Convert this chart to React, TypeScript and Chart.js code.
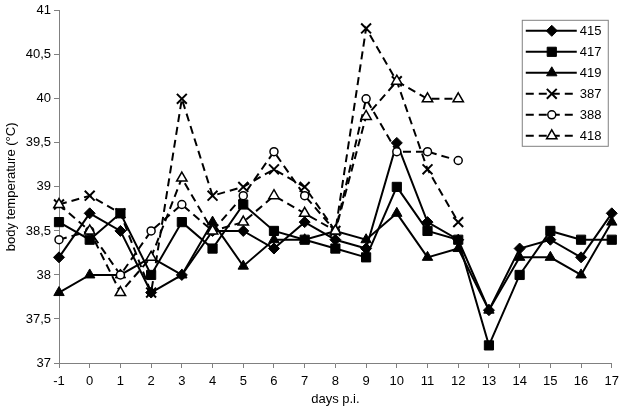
import React, { useEffect, useRef } from 'react';
import { Chart, registerables } from 'chart.js';
import { drawPoint } from 'chart.js/helpers';

Chart.register(...registerables);

const days = ['-1', '0', '1', '2', '3', '4', '5', '6', '7', '8', '9', '10', '11', '12', '13', '14', '15', '16', '17'];

const s415 = [38.2, 38.7, 38.5, 37.8, 38.0, 38.5, 38.5, 38.3, 38.6, 38.4, 38.3, 39.5, 38.6, 38.4, 37.6, 38.3, 38.4, 38.2, 38.7];
const s417 = [38.6, 38.4, 38.7, 38.0, 38.6, 38.3, 38.8, 38.5, 38.4, 38.3, 38.2, 39.0, 38.5, 38.4, 37.2, 38.0, 38.5, 38.4, 38.4];
const s419 = [37.8, 38.0, 38.0, 38.2, 38.0, 38.6, 38.1, 38.4, 38.4, 38.5, 38.4, 38.7, 38.2, 38.3, 37.6, 38.2, 38.2, 38.0, 38.6];
const s387 = [38.8, 38.9, 38.7, 37.8, 40.0, 38.9, 39.0, 39.2, 39.0, 38.5, 40.8, 40.2, 39.2, 38.6, null, null, null, null, null];
const s388 = [38.4, 38.5, 38.0, 38.5, 38.8, 38.5, 38.9, 39.4, 38.9, 38.5, 40.0, 39.4, 39.4, 39.3, null, null, null, null, null];
const s418 = [38.8, 38.5, 37.8, 38.2, 39.1, 38.5, 38.6, 38.9, 38.7, 38.5, 39.8, 40.2, 40.0, 40.0, null, null, null, null, null];

const yTitle = 'body temperature (°C)';
const xTitle = 'days p.i.';

type Spec = {
  label: string;
  data: (number | null)[];
  style: any;
  radius: number;
  fill: boolean;
  dash: number[];
  pbw: number;
};

const series: Spec[] = [
  { label: '415', data: s415, style: 'rectRot', radius: 5.5, fill: true, dash: [], pbw: 1 },
  { label: '417', data: s417, style: 'rect', radius: 6.5, fill: true, dash: [], pbw: 1 },
  { label: '419', data: s419, style: 'triangle', radius: 6, fill: true, dash: [], pbw: 1 },
  { label: '387', data: s387, style: 'crossRot', radius: 7, fill: false, dash: [8, 5], pbw: 2 },
  { label: '388', data: s388, style: 'circle', radius: 4, fill: false, dash: [8, 5], pbw: 1.5 },
  { label: '418', data: s418, style: 'triangle', radius: 6, fill: false, dash: [8, 5], pbw: 1.5 },
];

const FONT = '"Liberation Sans", Arial, sans-serif';

const boxLegend = {
  id: 'boxLegend',
  afterDraw(chart: any) {
    const ctx = chart.ctx as CanvasRenderingContext2D;
    const area = chart.chartArea;
    const x0 = area.right - 90;
    const y0 = area.top + 9;
    const w = 86;
    const h = 126;
    ctx.save();
    ctx.fillStyle = '#fff';
    ctx.fillRect(x0, y0, w, h);
    ctx.strokeStyle = '#808080';
    ctx.lineWidth = 1;
    ctx.setLineDash([]);
    ctx.strokeRect(x0 + 0.5, y0 + 0.5, w, h);
    series.forEach((s, i) => {
      const y = y0 + 11 + i * 21;
      ctx.strokeStyle = '#000';
      ctx.lineWidth = 2;
      ctx.setLineDash(s.dash);
      ctx.beginPath();
      ctx.moveTo(x0 + 4, y);
      ctx.lineTo(x0 + 55, y);
      ctx.stroke();
      ctx.setLineDash([]);
      ctx.fillStyle = s.fill ? '#000' : '#fff';
      ctx.strokeStyle = '#000';
      ctx.lineWidth = s.pbw;
      drawPoint(ctx, { pointStyle: s.style, rotation: 0, radius: s.radius, borderWidth: s.pbw } as any, x0 + 30, y);
      ctx.fillStyle = '#000';
      ctx.font = '13px ' + FONT;
      ctx.textBaseline = 'middle';
      ctx.textAlign = 'left';
      ctx.fillText(s.label, x0 + 58, y + 1);
    });
    ctx.restore();
  },
};

export default function App() {
  const ref = useRef<HTMLCanvasElement>(null);
  useEffect(() => {
    Chart.defaults.font.family = FONT;
    const chart = new Chart(ref.current as HTMLCanvasElement, {
      type: 'line',
      data: {
        labels: days,
        datasets: series.map((s, i) => ({
          label: s.label,
          data: s.data,
          order: series.length - 1 - i,
          borderColor: '#000',
          borderWidth: 2,
          borderDash: s.dash,
          pointStyle: s.style,
          pointRadius: s.radius,
          pointHoverRadius: s.radius,
          pointBackgroundColor: s.fill ? '#000' : '#fff',
          pointBorderColor: '#000',
          pointBorderWidth: s.pbw,
          tension: 0,
          spanGaps: false,
          fill: false,
        })),
      },
      options: {
        responsive: false,
        animation: false,
        layout: { padding: { left: 0, right: 13, top: 8, bottom: 0 } },
        plugins: {
          legend: { display: false },
          tooltip: { enabled: false },
        },
        scales: {
          x: {
            type: 'category',
            offset: false,
            grid: { offset: false, drawOnChartArea: false, tickLength: 5, color: '#808080' },
            border: { color: '#808080', width: 1 },
            ticks: { color: '#000', font: { size: 13 }, maxRotation: 0, autoSkip: false, padding: 6 },
            title: { display: true, text: xTitle, color: '#000', font: { size: 13 }, padding: { top: 4, bottom: 9 } },
            afterFit: (s: any) => {
              s.height = 53;
            },
          },
          y: {
            min: 37,
            max: 41,
            grid: { drawOnChartArea: false, tickLength: 5, color: '#808080' },
            border: { color: '#808080', width: 1 },
            ticks: {
              stepSize: 0.5,
              color: '#000',
              font: { size: 13 },
              padding: 3,
              callback: (v: any) => String(v).replace('.', ','),
            },
            title: { display: true, text: yTitle, color: '#000', font: { size: 13 }, padding: { top: 4, bottom: 4 } },
            afterFit: (s: any) => {
              s.width = 59;
            },
          },
        },
      },
      plugins: [boxLegend],
    });
    return () => chart.destroy();
  }, []);
  return (
    <div style={{ position: 'fixed', left: 0, top: 0, width: 625, height: 416, background: '#fff' }}>
      <canvas ref={ref} width={625} height={416} style={{ display: 'block' }} />
    </div>
  );
}
